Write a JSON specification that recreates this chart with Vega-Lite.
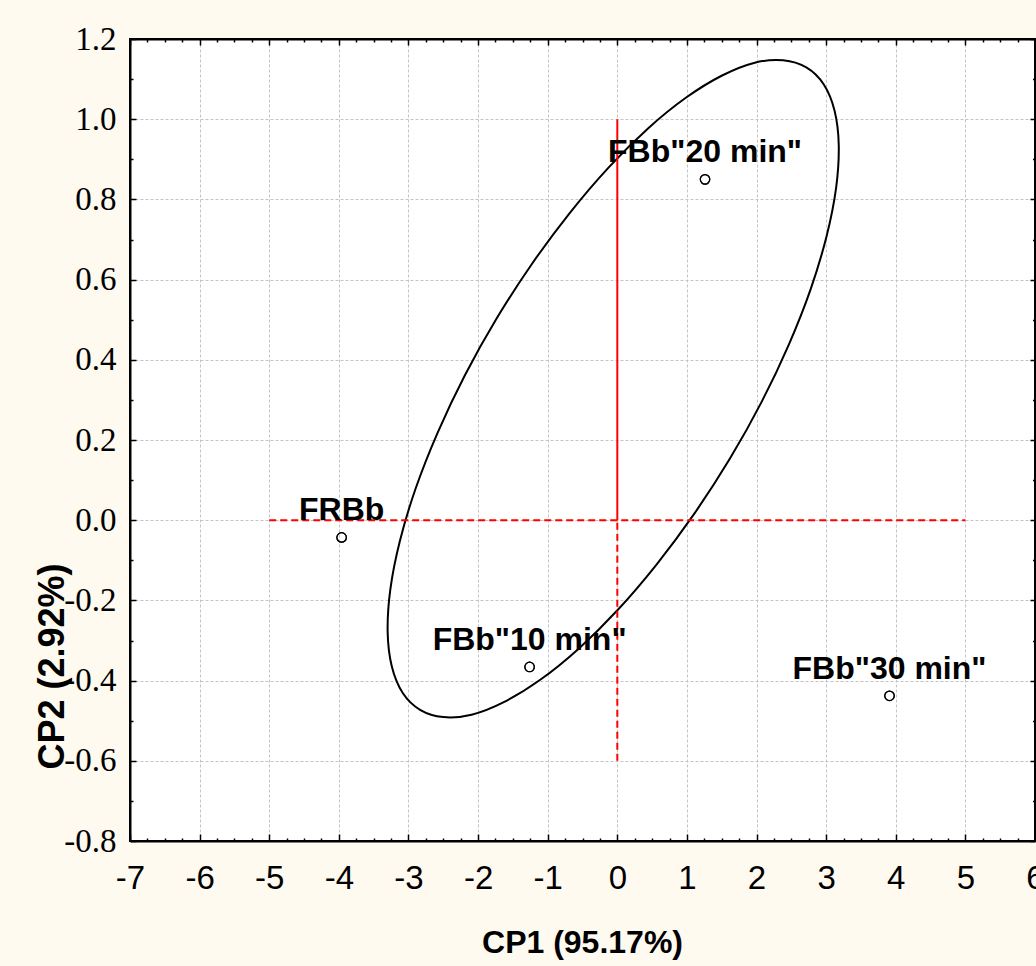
{
  "$schema": "https://vega.github.io/schema/vega-lite/v6.json",
  "width": 905,
  "height": 802,
  "autosize": {"type": "none"},
  "padding": {"left": 130, "top": 39, "right": 1, "bottom": 125},
  "background": "#FFFAF0",
  "config": {"view": {"fill": "white", "stroke": "black", "strokeWidth": 2}},
  "datasets": {
    "pts": [
      {"name": "FRBb", "x": -3.96, "y": -0.043},
      {"name": "FBb\"10 min\"", "x": -1.26, "y": -0.366},
      {"name": "FBb\"20 min\"", "x": 1.26, "y": 0.85},
      {"name": "FBb\"30 min\"", "x": 3.91, "y": -0.438}
    ],
    "ell": [
      {"i": 0, "ex": 2.715, "ey": 1.129},
      {"i": 1, "ex": 2.964, "ey": 1.087},
      {"i": 2, "ex": 3.121, "ey": 1.021},
      {"i": 3, "ex": 3.181, "ey": 0.935},
      {"i": 4, "ex": 3.143, "ey": 0.829},
      {"i": 5, "ex": 3.007, "ey": 0.709},
      {"i": 6, "ex": 2.779, "ey": 0.577},
      {"i": 7, "ex": 2.464, "ey": 0.438},
      {"i": 8, "ex": 2.073, "ey": 0.295},
      {"i": 9, "ex": 1.616, "ey": 0.153},
      {"i": 10, "ex": 1.109, "ey": 0.017},
      {"i": 11, "ex": 0.566, "ey": -0.11},
      {"i": 12, "ex": 0.005, "ey": -0.224},
      {"i": 13, "ex": -0.559, "ey": -0.321},
      {"i": 14, "ex": -1.107, "ey": -0.398},
      {"i": 15, "ex": -1.623, "ey": -0.453},
      {"i": 16, "ex": -2.093, "ey": -0.485},
      {"i": 17, "ex": -2.5, "ey": -0.491},
      {"i": 18, "ex": -2.833, "ey": -0.473},
      {"i": 19, "ex": -3.082, "ey": -0.431},
      {"i": 20, "ex": -3.239, "ey": -0.365},
      {"i": 21, "ex": -3.299, "ey": -0.279},
      {"i": 22, "ex": -3.261, "ey": -0.173},
      {"i": 23, "ex": -3.125, "ey": -0.053},
      {"i": 24, "ex": -2.897, "ey": 0.079},
      {"i": 25, "ex": -2.582, "ey": 0.218},
      {"i": 26, "ex": -2.191, "ey": 0.361},
      {"i": 27, "ex": -1.734, "ey": 0.503},
      {"i": 28, "ex": -1.227, "ey": 0.639},
      {"i": 29, "ex": -0.684, "ey": 0.766},
      {"i": 30, "ex": -0.123, "ey": 0.88},
      {"i": 31, "ex": 0.441, "ey": 0.977},
      {"i": 32, "ex": 0.989, "ey": 1.054},
      {"i": 33, "ex": 1.505, "ey": 1.109},
      {"i": 34, "ex": 1.975, "ey": 1.141},
      {"i": 35, "ex": 2.382, "ey": 1.147}
    ]
  },
  "resolve": {"axis": {"x": "independent", "y": "independent"}},
  "layer": [
    {
      "data": {"name": "pts"},
      "mark": {"type": "point", "shape": "circle", "filled": false, "stroke": "black", "strokeWidth": 1.2, "size": 90, "opacity": 1},
      "encoding": {
        "x": {
          "field": "x", "type": "quantitative",
          "scale": {"domain": [-7, 6], "nice": false, "zero": false},
          "axis": {
            "orient": "bottom",
            "values": [-7,-6.75,-6.5,-6.25,-6,-5.75,-5.5,-5.25,-5,-4.75,-4.5,-4.25,-4,-3.75,-3.5,-3.25,-3,-2.75,-2.5,-2.25,-2,-1.75,-1.5,-1.25,-1,-0.75,-0.5,-0.25,0,0.25,0.5,0.75,1,1.25,1.5,1.75,2,2.25,2.5,2.75,3,3.25,3.5,3.75,4,4.25,4.5,4.75,5,5.25,5.5,5.75,6],
            "labelExpr": "datum.value % 1 !== 0 ? '' : '' + datum.value",
            "labelOverlap": false,
            "labelFlush": false,
            "labelFont": "Liberation Sans",
            "labelFontSize": 33,
            "labelColor": "black",
            "labelBaseline": "alphabetic",
            "labelPadding": 54,
            "domain": true, "domainColor": "black", "domainWidth": 2,
            "ticks": true, "tickColor": "black", "tickWidth": 1.5,
            "tickSize": {"condition": {"test": "datum.value % 1 !== 0", "value": -3}, "value": -7},
            "grid": true, "gridColor": "#C4C4C4", "gridDash": [3, 2], "gridWidth": 1,
            "gridOpacity": {"condition": {"test": "datum.value % 1 !== 0", "value": 0}, "value": 1},
            "title": "CP1 (95.17%)",
            "titleFont": "Liberation Sans",
            "titleFontWeight": "bold",
            "titleFontSize": 32,
            "titleColor": "black",
            "titleX": 452,
            "titleY": 111,
            "titleAlign": "center",
            "titleBaseline": "alphabetic"
          }
        },
        "y": {
          "field": "y", "type": "quantitative",
          "scale": {"domain": [-0.8, 1.2], "nice": false, "zero": false},
          "axis": {
            "orient": "left",
            "values": [-0.8,-0.7,-0.6,-0.5,-0.4,-0.3,-0.2,-0.1,0,0.1,0.2,0.3,0.4,0.5,0.6,0.7,0.8,0.9,1,1.1,1.2],
            "labelExpr": "abs(datum.value*5 - round(datum.value*5)) > 0.001 ? '' : (datum.value < -0.0001 ? '-' : '') + format(abs(datum.value), '.1f')",
            "labelOverlap": false,
            "labelFlush": false,
            "labelFont": "Liberation Serif",
            "labelFontSize": 33,
            "labelColor": "black",
            "labelPadding": 20,
            "domain": true, "domainColor": "black", "domainWidth": 2,
            "ticks": true, "tickColor": "black", "tickWidth": 1.5,
            "tickSize": {"condition": {"test": "abs(datum.value*5 - round(datum.value*5)) > 0.001", "value": -3}, "value": -6},
            "grid": true, "gridColor": "#C4C4C4", "gridDash": [3, 2], "gridWidth": 1,
            "gridOpacity": {"condition": {"test": "abs(datum.value*5 - round(datum.value*5)) > 0.001", "value": 0}, "value": 1},
            "title": "CP2 (2.92%)",
            "titleFont": "Liberation Sans",
            "titleFontWeight": "bold",
            "titleFontSize": 36,
            "titleColor": "black",
            "titleAngle": -90,
            "titleX": -67,
            "titleY": 627,
            "titleAlign": "center",
            "titleBaseline": "alphabetic"
          }
        }
      }
    },
    {
      "data": {"name": "ell"},
      "mark": {"type": "line", "interpolate": "cardinal-closed", "stroke": "black", "strokeWidth": 2},
      "encoding": {
        "order": {"field": "i", "type": "quantitative"},
        "x": {
          "field": "ex", "type": "quantitative",
          "scale": {"domain": [-7, 6], "nice": false, "zero": false},
          "axis": {
            "orient": "top",
            "values": [-7,-6.75,-6.5,-6.25,-6,-5.75,-5.5,-5.25,-5,-4.75,-4.5,-4.25,-4,-3.75,-3.5,-3.25,-3,-2.75,-2.5,-2.25,-2,-1.75,-1.5,-1.25,-1,-0.75,-0.5,-0.25,0,0.25,0.5,0.75,1,1.25,1.5,1.75,2,2.25,2.5,2.75,3,3.25,3.5,3.75,4,4.25,4.5,4.75,5,5.25,5.5,5.75,6],
            "labels": false,
            "grid": false,
            "domain": true, "domainColor": "black", "domainWidth": 2,
            "ticks": true, "tickColor": "black", "tickWidth": 1.5,
            "tickSize": {"condition": {"test": "datum.value % 1 !== 0", "value": -3}, "value": -6},
            "title": null
          }
        },
        "y": {
          "field": "ey", "type": "quantitative",
          "scale": {"domain": [-0.8, 1.2], "nice": false, "zero": false},
          "axis": {
            "orient": "right",
            "values": [-0.8,-0.7,-0.6,-0.5,-0.4,-0.3,-0.2,-0.1,0,0.1,0.2,0.3,0.4,0.5,0.6,0.7,0.8,0.9,1,1.1,1.2],
            "labels": false,
            "grid": false,
            "domain": true, "domainColor": "black", "domainWidth": 2,
            "ticks": true, "tickColor": "black", "tickWidth": 1.5,
            "tickSize": {"condition": {"test": "abs(datum.value*5 - round(datum.value*5)) > 0.001", "value": -2.5}, "value": -5},
            "title": null
          }
        }
      }
    },
    {
      "data": {"values": [{"x1": -5, "x2": 5, "y": 0}]},
      "mark": {"type": "rule", "stroke": "red", "strokeWidth": 2, "strokeDash": [7, 4]},
      "encoding": {
        "x": {"field": "x1", "type": "quantitative", "scale": {"domain": [-7, 6], "nice": false, "zero": false}, "axis": null},
        "x2": {"field": "x2"},
        "y": {"field": "y", "type": "quantitative", "scale": {"domain": [-0.8, 1.2], "nice": false, "zero": false}, "axis": null}
      }
    },
    {
      "data": {"values": [{"x": 0, "y1": 0, "y2": 1.0}]},
      "mark": {"type": "rule", "stroke": "red", "strokeWidth": 2},
      "encoding": {
        "x": {"field": "x", "type": "quantitative", "scale": {"domain": [-7, 6], "nice": false, "zero": false}, "axis": null},
        "y": {"field": "y1", "type": "quantitative", "scale": {"domain": [-0.8, 1.2], "nice": false, "zero": false}, "axis": null},
        "y2": {"field": "y2"}
      }
    },
    {
      "data": {"values": [{"x": 0, "y1": -0.6, "y2": 0}]},
      "mark": {"type": "rule", "stroke": "red", "strokeWidth": 2, "strokeDash": [7, 4]},
      "encoding": {
        "x": {"field": "x", "type": "quantitative", "scale": {"domain": [-7, 6], "nice": false, "zero": false}, "axis": null},
        "y": {"field": "y1", "type": "quantitative", "scale": {"domain": [-0.8, 1.2], "nice": false, "zero": false}, "axis": null},
        "y2": {"field": "y2"}
      }
    },
    {
      "data": {"name": "pts"},
      "mark": {"type": "point", "shape": "circle", "filled": false, "stroke": "black", "strokeWidth": 1.2, "size": 90, "opacity": 1},
      "encoding": {
        "x": {"field": "x", "type": "quantitative", "scale": {"domain": [-7, 6], "nice": false, "zero": false}, "axis": null},
        "y": {"field": "y", "type": "quantitative", "scale": {"domain": [-0.8, 1.2], "nice": false, "zero": false}, "axis": null}
      }
    },
    {
      "data": {"name": "pts"},
      "mark": {"type": "text", "font": "Liberation Sans", "fontWeight": "bold", "fontSize": 32, "color": "black", "align": "center", "baseline": "alphabetic", "dy": -17},
      "encoding": {
        "x": {"field": "x", "type": "quantitative", "scale": {"domain": [-7, 6], "nice": false, "zero": false}, "axis": null},
        "y": {"field": "y", "type": "quantitative", "scale": {"domain": [-0.8, 1.2], "nice": false, "zero": false}, "axis": null},
        "text": {"field": "name"}
      }
    }
  ]
}
